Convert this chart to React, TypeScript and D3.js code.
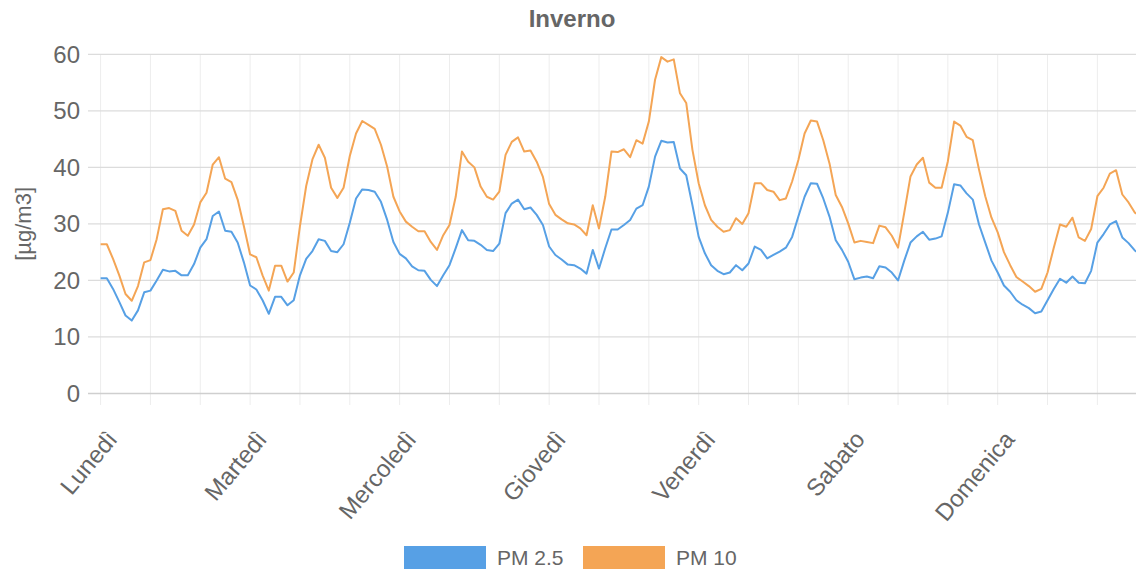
import { useMemo } from "react";
import * as d3 from "d3";

// hourly averages, one row per day (24 values)
const days = ["Lunedì", "Martedì", "Mercoledì", "Giovedì", "Venerdì", "Sabato", "Domenica"];

const pm25 = [
  [20.4, 20.4, 18.5, 16.2, 13.8, 12.9, 14.7, 17.9, 18.2, 20.0, 21.9, 21.6, 21.7, 20.9, 20.9, 22.9, 25.8, 27.3, 31.4, 32.2, 28.8, 28.6, 26.7, 23.2],
  [19.1, 18.4, 16.5, 14.1, 17.1, 17.1, 15.6, 16.5, 20.9, 23.8, 25.2, 27.3, 27.0, 25.2, 25.0, 26.4, 30.2, 34.5, 36.1, 36.0, 35.7, 33.9, 30.7, 26.8],
  [24.7, 23.9, 22.5, 21.8, 21.7, 20.1, 19.0, 20.9, 22.7, 25.7, 28.9, 27.1, 27.0, 26.3, 25.4, 25.2, 26.5, 31.9, 33.6, 34.3, 32.6, 32.9, 31.6, 29.8],
  [26.0, 24.5, 23.7, 22.8, 22.7, 22.1, 21.2, 25.4, 22.1, 25.7, 29.0, 29.0, 29.8, 30.7, 32.7, 33.3, 36.6, 41.9, 44.7, 44.4, 44.5, 39.8, 38.6, 33.3],
  [27.7, 24.8, 22.7, 21.7, 21.1, 21.4, 22.7, 21.8, 23.0, 26.0, 25.4, 23.9, 24.5, 25.1, 25.8, 27.7, 31.3, 34.8, 37.2, 37.1, 34.5, 31.3, 27.1, 25.4],
  [23.3, 20.2, 20.5, 20.7, 20.4, 22.5, 22.3, 21.4, 20.0, 23.5, 26.7, 27.8, 28.6, 27.2, 27.4, 27.8, 32.0, 37.0, 36.8, 35.4, 34.3, 29.9, 26.7, 23.5],
  [21.4, 19.1, 18.0, 16.5, 15.7, 15.1, 14.2, 14.5, 16.5, 18.5, 20.3, 19.6, 20.7, 19.6, 19.5, 21.7, 26.7, 28.2, 29.9, 30.5, 27.6, 26.6, 25.3, 24.5],
];

const pm10 = [
  [26.4, 26.4, 23.8, 20.9, 17.6, 16.4, 19.0, 23.2, 23.6, 27.3, 32.6, 32.8, 32.3, 28.8, 27.9, 29.9, 33.8, 35.5, 40.5, 41.8, 38.0, 37.4, 34.3, 29.6],
  [24.6, 24.1, 20.9, 18.2, 22.6, 22.6, 19.8, 21.4, 29.6, 36.7, 41.4, 44.0, 41.7, 36.4, 34.6, 36.4, 42.0, 46.0, 48.2, 47.5, 46.8, 44.0, 40.1, 34.8],
  [32.2, 30.4, 29.5, 28.7, 28.7, 26.8, 25.4, 28.0, 29.8, 34.8, 42.8, 41.0, 40.0, 36.6, 34.8, 34.3, 35.7, 42.2, 44.5, 45.3, 42.8, 43.0, 41.0, 38.3],
  [33.5, 31.6, 30.8, 30.1, 29.9, 29.2, 28.0, 33.3, 29.2, 34.8, 42.8, 42.7, 43.2, 41.8, 44.8, 44.2, 48.1, 55.5, 59.5, 58.7, 59.1, 53.1, 51.4, 43.1],
  [37.2, 33.3, 30.7, 29.5, 28.6, 28.9, 31.0, 30.0, 31.9, 37.2, 37.2, 36.0, 35.7, 34.2, 34.5, 37.5, 41.3, 46.0, 48.3, 48.1, 44.8, 40.7, 35.1, 33.0],
  [30.1, 26.7, 27.0, 26.8, 26.6, 29.7, 29.4, 27.9, 25.8, 32.0, 38.4, 40.5, 41.7, 37.3, 36.4, 36.4, 41.1, 48.1, 47.4, 45.4, 44.8, 39.6, 34.9, 31.1],
  [28.5, 25.0, 22.7, 20.6, 19.8, 19.0, 18.0, 18.5, 21.4, 25.8, 29.9, 29.5, 31.1, 27.6, 27.0, 29.1, 34.9, 36.4, 38.9, 39.5, 35.2, 33.8, 32.0, 31.3],
];

const yTicks = [0, 10, 20, 30, 40, 50, 60];

const series = [
  { name: "PM 2.5", values: pm25.flat(), color: "#57a0e5" },
  { name: "PM 10", values: pm10.flat(), color: "#f4a555" },
];

const W = 1136;
const H = 571;
const FONT = "'Liberation Sans', Arial, sans-serif";
const TXT = "#666";

export default function App() {
  const n = series[0].values.length;

  const x = useMemo(() => d3.scaleLinear().domain([0, n - 1]).range([100.6, 1141]), [n]);
  const y = useMemo(() => d3.scaleLinear().domain([0, 60]).range([393.5, 54.3]), []);

  const line = d3
    .line<number>()
    .x((_, i) => x(i))
    .y((d) => y(d));

  const gridIdx = d3.range(0, n, 8);

  return (
    <svg
      width={W}
      height={H}
      style={{ position: "absolute", left: 0, top: 0, background: "#fff" }}
      fontFamily={FONT}
    >
      <text x={572} y={27} textAnchor="middle" fontSize={24} fontWeight="bold" fill={TXT}>
        Inverno
      </text>

      {/* vertical grid */}
      {gridIdx.map((i) => (
        <line key={"v" + i} x1={x(i)} x2={x(i)} y1={y(60)} y2={405} stroke="#ededed" strokeWidth={1} />
      ))}
      {/* horizontal grid */}
      {yTicks.map((t) => (
        <line key={"h" + t} x1={88} x2={W} y1={y(t)} y2={y(t)} stroke={t === 0 ? "#cfcfcf" : "#dcdcdc"} strokeWidth={1.3} />
      ))}

      {yTicks.map((t) => (
        <text key={"yt" + t} x={80} y={y(t)} dy="0.35em" textAnchor="end" fontSize={24} fill={TXT}>
          {t}
        </text>
      ))}

      <text
        transform={`translate(31,${(y(0) + y(60)) / 2}) rotate(-90)`}
        textAnchor="middle"
        fontSize={22}
        fill={TXT}
      >
        [µg/m3]
      </text>

      {days.map((d, k) => (
        <text
          key={d}
          transform={`translate(${x(k * 24) + 18},440) rotate(-50)`}
          textAnchor="end"
          fontSize={24}
          fill={TXT}
        >
          {d}
        </text>
      ))}

      {series.map((s) => (
        <path key={s.name} d={line(s.values) ?? ""} fill="none" stroke={s.color} strokeWidth={2} strokeLinejoin="round" />
      ))}

      {/* legend */}
      {series.map((s, i) => {
        const lx = 404 + i * 179;
        return (
          <g key={"lg" + s.name}>
            <rect x={lx} y={546} width={82} height={23} fill={s.color} />
            <text x={lx + 93} y={558} dy="0.35em" fontSize={21} fill={TXT}>
              {s.name}
            </text>
          </g>
        );
      })}
    </svg>
  );
}
